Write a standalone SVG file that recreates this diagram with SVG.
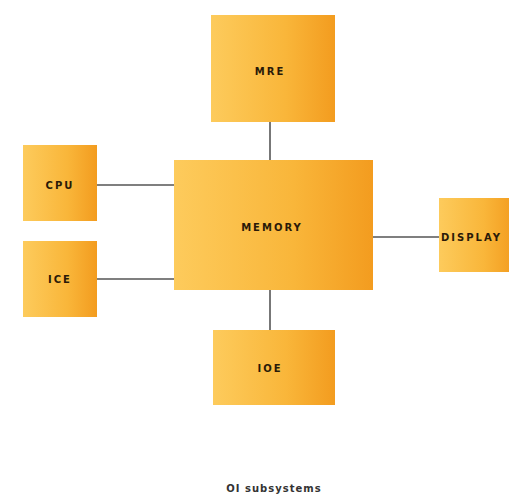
<svg xmlns="http://www.w3.org/2000/svg" width="509" height="497" viewBox="0 0 509 497">
<defs>
<linearGradient id="g" x1="0" y1="0" x2="1" y2="0">
<stop offset="0" stop-color="#FDCB5C"/>
<stop offset="0.6" stop-color="#F9B63A"/>
<stop offset="1" stop-color="#F39C1F"/>
</linearGradient>
<style>
.box{fill:url(#g);}
.lbl{font-family:"DejaVu Sans","Liberation Sans",sans-serif;font-weight:bold;font-size:10px;fill:#2a1a08;text-anchor:middle;dominant-baseline:central;letter-spacing:2px;}
.cap{font-family:"DejaVu Sans","Liberation Sans",sans-serif;font-weight:bold;font-size:10px;fill:#333;text-anchor:middle;letter-spacing:1px;}
.ln{stroke:#555;stroke-width:1.6;fill:none;}
</style>
</defs>
<rect width="509" height="497" fill="#fff"/>
<g id="connectors">
<line class="ln" x1="270" y1="122" x2="270" y2="160"/>
<line class="ln" x1="97" y1="185" x2="174" y2="185"/>
<line class="ln" x1="97" y1="279" x2="174" y2="279"/>
<line class="ln" x1="373" y1="237" x2="439" y2="237"/>
<line class="ln" x1="270" y1="290" x2="270" y2="330"/>
</g>
<g id="mre"><rect class="box" x="211" y="15" width="124" height="107"/><text class="lbl" x="270" y="71">MRE</text></g>
<g id="cpu"><rect class="box" x="23" y="145" width="74" height="76"/><text class="lbl" x="60" y="185">CPU</text></g>
<g id="ice"><rect class="box" x="23" y="241" width="74" height="76"/><text class="lbl" x="60" y="279">ICE</text></g>
<g id="memory"><rect class="box" x="174" y="160" width="199" height="130"/><text class="lbl" x="272" y="227">MEMORY</text></g>
<g id="display"><rect class="box" x="439" y="198" width="75" height="74"/><text class="lbl" x="441" y="237" style="text-anchor:start">DISPLAY</text></g>
<g id="ioe"><rect class="box" x="213" y="330" width="122" height="75"/><text class="lbl" x="270" y="368">IOE</text></g>
<text class="cap" x="274" y="492">OI subsystems</text>
</svg>
